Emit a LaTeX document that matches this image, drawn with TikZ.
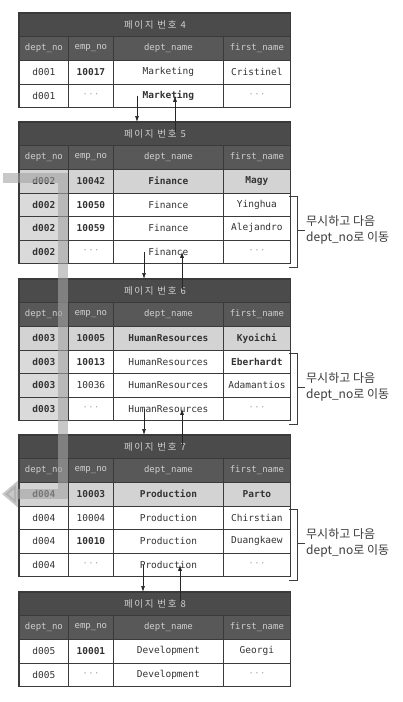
\documentclass[tikz,border=0pt]{standalone}
\usepackage{fontspec}
\setmonofont{DejaVu Sans Mono}
\newfontfamily\krfont{Noto Sans CJK KR}
\newfontfamily\krtitlefont[LetterSpace=18]{Noto Sans CJK KR}
\usetikzlibrary{arrows.meta}

\definecolor{titlebg}{HTML}{4B4B4B}
\definecolor{headbg}{HTML}{585858}
\definecolor{headtxt}{HTML}{CFCFCF}
\definecolor{gridline}{HTML}{3A3A3A}
\definecolor{celltxt}{HTML}{333333}
\definecolor{hilite}{HTML}{D3D3D3}
\definecolor{keycol}{HTML}{DADADA}
\definecolor{nilgray}{HTML}{B0B0B0}
\definecolor{bandgray}{HTML}{A4A4A4}
\definecolor{notetxt}{HTML}{3C3C3C}

\tikzset{
  cellbox/.style={rectangle, draw=gridline, line width=0.8pt, fill=white,
    inner sep=0pt, minimum height=23.5pt, anchor=north west, text=celltxt,
    font=\ttfamily\fontsize{9.5}{11}\selectfont},
  hot/.style={fill=hilite, font=\ttfamily\bfseries\fontsize{9.5}{11}\selectfont},
  keycell/.style={fill=keycol, font=\ttfamily\bfseries\fontsize{9.5}{11}\selectfont},
  headcell/.style={rectangle, draw=gridline, line width=0.8pt, fill=headbg,
    inner sep=0pt, minimum height=24pt, anchor=north west, text=headtxt,
    font=\ttfamily\fontsize{9}{10}\selectfont},
  titlebar/.style={rectangle, draw=gridline, line width=0.8pt, fill=titlebg,
    inner sep=0pt, minimum width=271pt, minimum height=23pt, anchor=north west,
    text=headtxt, font=\krtitlefont\fontsize{9.5}{11}\selectfont},
  tblframe/.style={draw=gridline, line width=1.3pt},
  ptr/.style={draw=black!85, line width=0.7pt, -{Latex[length=6pt,width=4pt]}},
  bracket/.style={draw=notetxt, line width=0.9pt},
  notetext/.style={anchor=west, inner sep=0pt, align=left, text=notetxt,
    font=\krfont\fontsize{12}{16}\selectfont},
  band/.style={draw=bandgray, line width=10pt, opacity=0.6,
    -{Triangle[width=26pt,length=16pt]}},
}

% column header row of a page: name prefix, top y
\newcommand\headrow[2]{%
  \node[headcell, minimum width=49pt]  (#1-a) at (19,#2)  {dept\_no};
  \node[headcell, minimum width=45pt]  (#1-b) at (68,#2)  {emp\_no};
  \node[headcell, minimum width=110pt] (#1-c) at (113,#2) {dept\_name};
  \node[headcell, minimum width=67pt]  (#1-d) at (223,#2) {first\_name};
}
% data row: name, top y, style of key cell, style of other cells, four texts
\newcommand\datarow[8]{%
  \node[cellbox, #3, minimum width=49pt]  (#1-a) at (19,#2)  {#5};
  \node[cellbox, #4, minimum width=45pt]  (#1-b) at (68,#2)  {#6};
  \node[cellbox, #4, minimum width=110pt] (#1-c) at (113,#2) {#7};
  \node[cellbox, #4, minimum width=67pt]  (#1-d) at (223,#2) {#8};
}
\newcommand\nil{\textcolor{nilgray}{\mdseries···}}

\begin{document}
\begin{tikzpicture}[x=1pt, y=-1pt]
\useasboundingbox (0,0) rectangle (402,702);
\fill[white] (0,0) rectangle (402,702);

% ---- page 4
\node[titlebar] (p4t) at (19,13) {페이지 번호 4};
\headrow{p4h}{36}
\datarow{p4r1}{60}{}{}{d001}{\textbf{10017}}{Marketing}{Cristinel}
\datarow{p4r2}{83.5}{}{}{d001}{\nil}{\textbf{Marketing}}{\nil}
\draw[tblframe] (p4t.north west) rectangle (p4r2-d.south east);

% ---- page 5
\node[titlebar] (p5t) at (19,122) {페이지 번호 5};
\headrow{p5h}{145}
\datarow{p5r1}{169}{hot}{hot}{d002}{10042}{Finance}{Magy}
\datarow{p5r2}{192.5}{keycell}{}{d002}{\textbf{10050}}{Finance}{Yinghua}
\datarow{p5r3}{216}{keycell}{}{d002}{\textbf{10059}}{Finance}{Alejandro}
\datarow{p5r4}{239.5}{keycell}{}{d002}{\nil}{Finance}{\nil}
\draw[tblframe] (p5t.north west) rectangle (p5r4-d.south east);

% ---- page 6
\node[titlebar] (p6t) at (19,279) {페이지 번호 6};
\headrow{p6h}{302}
\datarow{p6r1}{326}{hot}{hot}{d003}{10005}{HumanResources}{Kyoichi}
\datarow{p6r2}{349.5}{keycell}{}{d003}{\textbf{10013}}{HumanResources}{\textbf{Eberhardt}}
\datarow{p6r3}{373}{keycell}{}{d003}{10036}{HumanResources}{Adamantios}
\datarow{p6r4}{396.5}{keycell}{}{d003}{\nil}{HumanResources}{\nil}
\draw[tblframe] (p6t.north west) rectangle (p6r4-d.south east);

% ---- page 7
\node[titlebar] (p7t) at (19,435) {페이지 번호 7};
\headrow{p7h}{458}
\datarow{p7r1}{482}{hot}{hot}{d004}{10003}{Production}{Parto}
\datarow{p7r2}{505.5}{}{}{d004}{10004}{Production}{Chirstian}
\datarow{p7r3}{529}{}{}{d004}{\textbf{10010}}{Production}{Duangkaew}
\datarow{p7r4}{552.5}{}{}{d004}{\nil}{Production}{\nil}
\draw[tblframe] (p7t.north west) rectangle (p7r4-d.south east);

% ---- page 8
\node[titlebar] (p8t) at (19,592) {페이지 번호 8};
\headrow{p8h}{615}
\datarow{p8r1}{639}{}{}{d005}{\textbf{10001}}{Development}{Georgi}
\datarow{p8r2}{662.5}{}{}{d005}{\nil}{Development}{\nil}
\draw[tblframe] (p8t.north west) rectangle (p8r2-d.south east);

% ---- scan path through the first entry of each dept_no
\coordinate (bandin) at (3,178);
\coordinate (bandbend) at (63,494);
\coordinate (bandout) at (2,494);
\draw[band] (bandin) -| (bandbend) -- (bandout);

% ---- next / previous page pointers
\draw[ptr] ([xshift=24pt,yshift=12pt]p4r2-c.south west) -- ([xshift=118pt]p5t.north west);
\draw[ptr] ([xshift=156pt,yshift=-10pt]p5t.north west) -- ([xshift=62pt,yshift=12pt]p4r2-c.south west);
\draw[ptr] ([xshift=31pt,yshift=12pt]p5r4-c.south west) -- ([xshift=125pt]p6t.north west);
\draw[ptr] ([xshift=163pt,yshift=-10pt]p6t.north west) -- ([xshift=69pt,yshift=12pt]p5r4-c.south west);
\draw[ptr] ([xshift=31pt,yshift=12pt]p6r4-c.south west) -- ([xshift=125pt]p7t.north west);
\draw[ptr] ([xshift=163pt,yshift=-10pt]p7t.north west) -- ([xshift=69pt,yshift=12pt]p6r4-c.south west);
\draw[ptr] ([xshift=30pt,yshift=12pt]p7r4-c.south west) -- ([xshift=124pt]p8t.north west);
\draw[ptr] ([xshift=161pt,yshift=-10pt]p8t.north west) -- ([xshift=67pt,yshift=12pt]p7r4-c.south west);

% ---- skipped entries
\node[notetext] (n5) at (306,230) {무시하고 다음\\dept\_no로 이동};
\draw[bracket] ([xshift=-2pt,yshift=-4pt]p5r2-d.north east) -- ++(9,0) |- ([xshift=-2pt,yshift=-4pt]p5r4-d.south east);
\draw[bracket] ([xshift=-1pt]n5.west) -- ++(-8,0);

\node[notetext] (n6) at (306,387) {무시하고 다음\\dept\_no로 이동};
\draw[bracket] ([xshift=-2pt,yshift=-4pt]p6r2-d.north east) -- ++(9,0) |- ([xshift=-2pt,yshift=-4pt]p6r4-d.south east);
\draw[bracket] ([xshift=-1pt]n6.west) -- ++(-8,0);

\node[notetext] (n7) at (306,543) {무시하고 다음\\dept\_no로 이동};
\draw[bracket] ([xshift=-2pt,yshift=-4pt]p7r2-d.north east) -- ++(9,0) |- ([xshift=-2pt,yshift=-4pt]p7r4-d.south east);
\draw[bracket] ([xshift=-1pt]n7.west) -- ++(-8,0);
\end{tikzpicture}
\end{document}
